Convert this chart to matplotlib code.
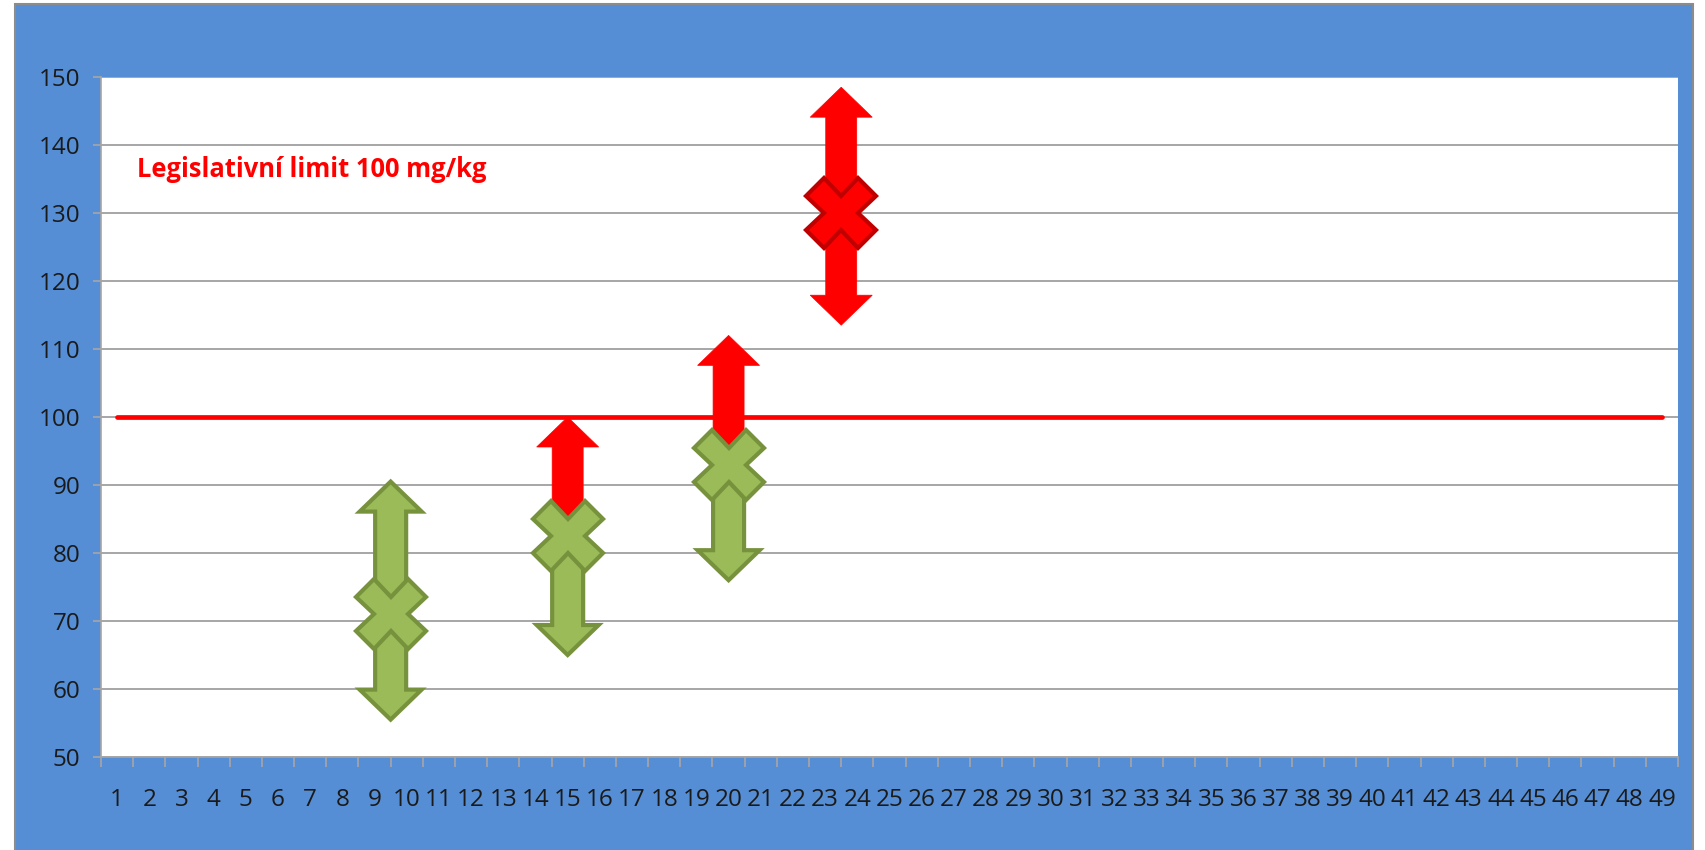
import matplotlib
matplotlib.use("Agg")
import matplotlib.pyplot as plt
from matplotlib.patches import Polygon, Rectangle
import numpy as np

# ---- data ----
categories = list(range(1, 50))
point_x = [9.5, 15, 20, 23.5]
point_y = [71, 82.5, 93, 130]
lower_end = [55.5, 65, 76, 113.5]
upper_end = [90.5, 100, 112, 148.5]
lower_kind = ["ok", "ok", "ok", "over"]
upper_kind = ["ok", "over", "over", "over"]
marker_kind = ["ok", "ok", "ok", "over"]
limit_value = 100
limit_label = "Legislativní limit 100 mg/kg"
y_ticks = [50, 60, 70, 80, 90, 100, 110, 120, 130, 140, 150]

# ---- styles ----
FILL = {"ok": "#9BBB59", "over": "#FF0000"}
EDGE = {"ok": "#76923C", "over": "#FF0000"}
MEDGE = {"ok": "#76923C", "over": "#C00000"}
BG = "#558ED5"
FONT = "Open Sans"

W, H, DPI = 1706, 850, 100
fig = plt.figure(figsize=(W / DPI, H / DPI), dpi=DPI, facecolor="white")

# outer blue chart area with gray border
fig.patches.append(Rectangle((15 / W, -0.01), (1693 - 15) / W, 1 - 4 / H + 0.01,
                             transform=fig.transFigure, facecolor=BG,
                             edgecolor="#8C8C8C", linewidth=1.5, zorder=-10))

L, R, T, B = 101, 1678, 77, 757
ax = fig.add_axes([L / W, 1 - B / H, (R - L) / W, (B - T) / H])
ax.set_zorder(1)
ax.set_facecolor("white")
ax.set_xlim(0.5, 49.5)
ax.set_ylim(50, 150)

ax.set_yticks(y_ticks)
ax.set_yticklabels([str(v) for v in y_ticks], fontsize=17.5, family=FONT, color="#1A1A1A")
ax.yaxis.grid(True, color="#A6A6A6", linewidth=1.4, zorder=0)
ax.set_axisbelow(True)

ax.set_xticks(categories)
ax.set_xticklabels([str(c) for c in categories], fontsize=17.5, family=FONT, color="#1A1A1A")
ax.set_xticks(np.arange(0.5, 50.0, 1.0), minor=True)
ax.tick_params(axis="x", which="major", length=0, pad=22)
ax.tick_params(axis="x", which="minor", length=7, color="#A6A6A6", width=1.2)
ax.tick_params(axis="y", length=6, color="#A6A6A6", width=1.2, pad=9)

for s in ["top", "right"]:
    ax.spines[s].set_visible(False)
ax.spines["left"].set_color("#A6A6A6")
ax.spines["bottom"].set_color("#A6A6A6")
ax.spines["left"].set_linewidth(1.2)
ax.spines["bottom"].set_linewidth(1.2)

# limit line
ax.plot([categories[0], categories[-1]], [limit_value, limit_value],
        color="#FF0000", linewidth=3.4, solid_capstyle="round", zorder=2)
ax.text(1.63, 136.4, limit_label, color="#FF0000", fontsize=18.4, fontweight="bold",
        family=FONT, va="center", ha="left")

# arrow geometry (in axis units derived from pixel sizes)
px_x = (R - L) / 49.0
px_y = (B - T) / 100.0
shaft_hw = 15.5 / px_x
head_hw = 31 / px_x
head_len = 30 / px_y


def arrow(x, y0, y1, kind, z):
    d = np.sign(y1 - y0)
    yb = y1 - d * head_len
    pts = [(x - shaft_hw, y0), (x - shaft_hw, yb), (x - head_hw, yb), (x, y1),
           (x + head_hw, yb), (x + shaft_hw, yb), (x + shaft_hw, y0)]
    lw = 3 if kind == "ok" else 0.5
    ax.add_patch(Polygon(pts, closed=True, facecolor=FILL[kind],
                         edgecolor=EDGE[kind], linewidth=lw, joinstyle="miter",
                         zorder=z))


for i in range(len(point_x)):
    segs = [(lower_end[i], lower_kind[i]), (upper_end[i], upper_kind[i])]
    segs.sort(key=lambda s: 0 if s[1] == "over" else 1)
    for k, (end, kind) in enumerate(segs):
        arrow(point_x[i], point_y[i], end, kind, 3 + k * 0.1)
    ax.plot(point_x[i], point_y[i], marker="X", markersize=50,
            markerfacecolor=FILL[marker_kind[i]], markeredgecolor=MEDGE[marker_kind[i]],
            markeredgewidth=3, linestyle="none", zorder=5)

fig.savefig("out.png", dpi=DPI, facecolor="white")
